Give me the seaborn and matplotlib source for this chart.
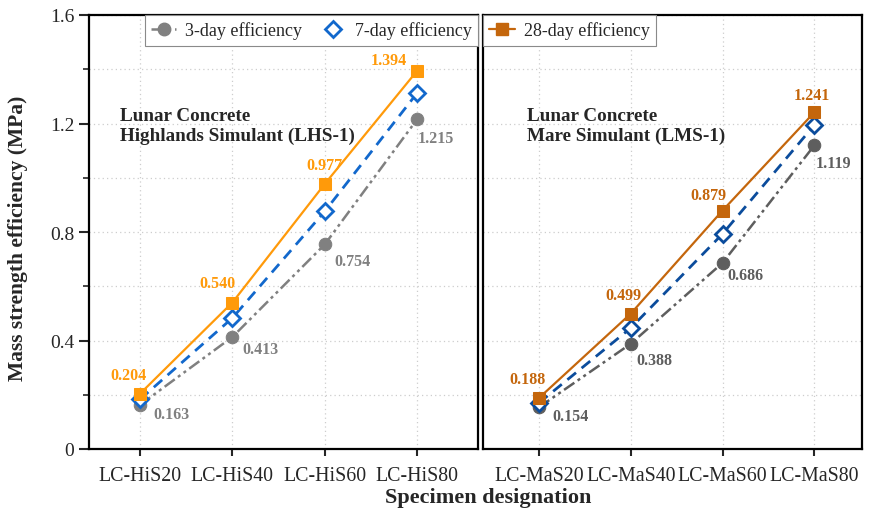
import numpy as np
import pandas as pd
import matplotlib
matplotlib.use("Agg")
import matplotlib.pyplot as plt
from matplotlib.ticker import MultipleLocator
from matplotlib.lines import Line2D
import seaborn as sns

# ---- data -------------------------------------------------------------
his_labels = ["LC-HiS20", "LC-HiS40", "LC-HiS60", "LC-HiS80"]
mas_labels = ["LC-MaS20", "LC-MaS40", "LC-MaS60", "LC-MaS80"]

his_3day = [0.163, 0.413, 0.754, 1.215]
his_7day = [0.183, 0.483, 0.876, 1.312]
his_28day = [0.204, 0.540, 0.977, 1.394]

mas_3day = [0.154, 0.388, 0.686, 1.119]
mas_7day = [0.170, 0.446, 0.793, 1.194]
mas_28day = [0.188, 0.499, 0.879, 1.241]

y_ticks = [0, 0.4, 0.8, 1.2, 1.6]
y_tick_labels = ["0", "0.4", "0.8", "1.2", "1.6"]

# ---- styling ----------------------------------------------------------
sns.set_style("white")
plt.rcParams["font.family"] = ["Liberation Serif", "DejaVu Serif"]
plt.rcParams["mathtext.fontset"] = "stix"

panels = [
    dict(ax_rect=[89 / 872, 60 / 510, 389 / 872, 434 / 510],
         cats=his_labels, d3=his_3day, d7=his_7day, d28=his_28day,
         grey="#808080", blue="#1268CC", orange="#FF9A0A",
         xlim=(-0.553, 3.66),
         title="Lunar Concrete\nHighlands Simulant (LHS-1)",
         # label offsets in pixels (dx, dy)
         off3=[(13, -9), (10, -12), (10, -17), (1, -19)],
         off28=[(-12, 19), (-15, 20), (0, 19), (-28, 11)]),
    dict(ax_rect=[483 / 872, 60 / 510, 379 / 872, 434 / 510],
         cats=mas_labels, d3=mas_3day, d7=mas_7day, d28=mas_28day,
         grey="#5E5E5E", blue="#0B4C9C", orange="#C4660C",
         xlim=(-0.61, 3.52),
         title="Lunar Concrete\nMare Simulant (LMS-1)",
         off3=[(13, -9), (6, -16), (5, -12), (1, -18)],
         off28=[(-11, 19), (-7, 19), (-14, 16), (-2, 17)]),
]

fig = plt.figure(figsize=(8.72, 5.10), dpi=100)
axes = []
dashdotdot = (5, 1.6, 1.2, 1.6, 1.2, 1.6)

for i, p in enumerate(panels):
    ax = fig.add_axes(p["ax_rect"])
    axes.append(ax)
    df = pd.DataFrame({"specimen": p["cats"], "d3": p["d3"],
                       "d7": p["d7"], "d28": p["d28"]})

    sns.lineplot(data=df, x="specimen", y="d3", ax=ax, sort=False,
                 color=p["grey"], lw=1.8, marker="o", markersize=9,
                 markeredgecolor=p["grey"], markerfacecolor=p["grey"],
                 zorder=3)
    ax.lines[-1].set_dashes(dashdotdot)
    sns.lineplot(data=df, x="specimen", y="d7", ax=ax, sort=False,
                 color=p["blue"], lw=2.0, marker="D", markersize=8,
                 markeredgecolor=p["blue"], markerfacecolor="white",
                 markeredgewidth=2.0, zorder=4)
    ax.lines[-1].set_dashes((4, 2.6))
    sns.lineplot(data=df, x="specimen", y="d28", ax=ax, sort=False,
                 color=p["orange"], lw=1.6, marker="s", markersize=8.5,
                 markeredgecolor=p["orange"], markerfacecolor=p["orange"],
                 zorder=5)

    # value labels
    for j, v in enumerate(p["d3"]):
        ax.annotate(f"{v:.3f}", (j, v), xytext=p["off3"][j],
                    textcoords="offset pixels", ha="left", va="center",
                    fontsize=11.5, fontweight="bold", color=p["grey"],
                    zorder=6)
    for j, v in enumerate(p["d28"]):
        ax.annotate(f"{v:.3f}", (j, v), xytext=p["off28"][j],
                    textcoords="offset pixels", ha="center", va="center",
                    fontsize=11.5, fontweight="bold", color=p["orange"],
                    zorder=6)

    ax.text(0.08 if i == 0 else 0.115, 0.745, p["title"],
            transform=ax.transAxes, ha="left", va="center",
            fontsize=13.8, fontweight="bold", linespacing=1.25)

    ax.set_xlim(*p["xlim"])
    ax.set_ylim(0, 1.6)
    ax.set_xticks(range(len(p["cats"])))
    ax.set_xticklabels(p["cats"], fontsize=14.3)
    ax.set_xlabel("")
    ax.set_ylabel("")
    ax.yaxis.set_minor_locator(MultipleLocator(0.2))
    ax.grid(True, which="both", axis="y", ls=(0, (1, 2.5)),
            color="#cdcdcd", lw=0.9)
    ax.grid(True, which="major", axis="x", ls=(0, (1, 2.5)),
            color="#cdcdcd", lw=0.9)
    ax.set_axisbelow(True)
    for s in ax.spines.values():
        s.set_linewidth(1.6)
        s.set_color("black")
    ax.tick_params(axis="x", direction="out", length=5, width=1.5,
                   pad=7, bottom=True)
    if i == 0:
        ax.set_yticks(y_ticks)
        ax.set_yticklabels(y_tick_labels, fontsize=14)
        ax.tick_params(axis="y", which="major", direction="out",
                       length=7, width=1.5, left=True)
        ax.tick_params(axis="y", which="minor", direction="out",
                       length=4, width=1.2, left=True)
    else:
        ax.set_yticks(y_ticks)
        ax.tick_params(axis="y", which="both", left=False,
                       labelleft=False)

# legends
h3 = Line2D([], [], color=panels[0]["grey"], lw=1.8, marker="o",
            markersize=9, dashes=dashdotdot)
h7 = Line2D([], [], color=panels[0]["blue"], lw=0, marker="D",
            markersize=8, markerfacecolor="white", markeredgewidth=2.0)
h28 = Line2D([], [], color=panels[1]["orange"], lw=1.6, marker="s",
             markersize=8.5)
leg_kw = dict(fontsize=13, frameon=True, fancybox=False, framealpha=1,
              edgecolor="#8a8a8a", borderaxespad=0, handlelength=1.4,
              handletextpad=0.5, borderpad=0.35, columnspacing=1.0)
l1 = axes[0].legend([h3, h7], ["3-day efficiency", "7-day efficiency"],
                    loc="upper right", ncol=2, **leg_kw)
l1.get_frame().set_linewidth(0.8)
l2 = axes[1].legend([h28], ["28-day efficiency"], loc="upper left",
                    **leg_kw)
l2.get_frame().set_linewidth(0.8)

fig.text(18 / 872, 0.5 + 17 / 510, "Mass strength efficiency (MPa)",
         rotation=90, ha="center", va="center", fontsize=15.5,
         fontweight="bold")
fig.text(488 / 872, 12 / 510, "Specimen designation", ha="center",
         va="center", fontsize=16, fontweight="bold")

fig.savefig("out.png", dpi=100)
